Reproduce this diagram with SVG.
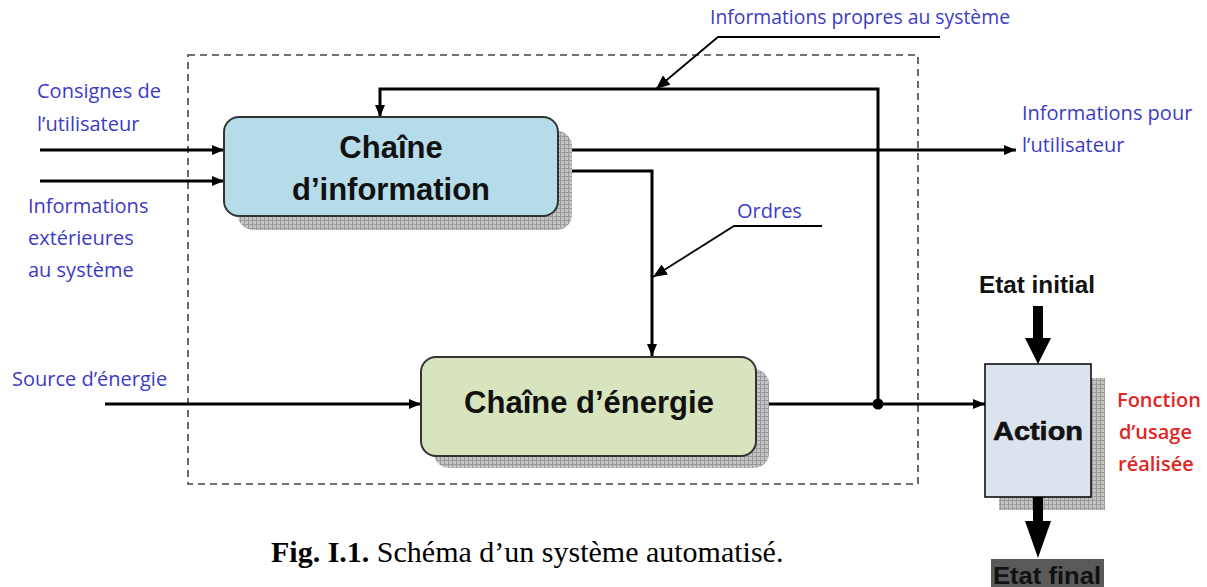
<svg xmlns="http://www.w3.org/2000/svg" width="1207" height="587" viewBox="0 0 1207 587">
  <defs>
    <pattern id="hatch" width="4" height="4" patternUnits="userSpaceOnUse">
      <rect width="4" height="4" fill="#c4c4c4"/>
      <path d="M0 0.5H4M0.5 0V4" stroke="#9a9a9a" stroke-width="1"/>
    </pattern>
    <marker id="arr" viewBox="0 0 12 10" refX="12" refY="5" markerWidth="12" markerHeight="10" markerUnits="userSpaceOnUse" orient="auto">
      <path d="M0 0L12 5L0 10Z" fill="#000"/>
    </marker>
    <marker id="arrL" viewBox="0 0 14 12" refX="14" refY="6" markerWidth="14" markerHeight="12" markerUnits="userSpaceOnUse" orient="auto">
      <path d="M0 0L14 6L0 12Z" fill="#000"/>
    </marker>
  </defs>
  <style>
    .lbl { font-family: "Open Sans", "Liberation Sans", sans-serif; font-size: 20px; fill: #3b3bc4; }
    .red { font-family: "Open Sans", "Liberation Sans", sans-serif; font-size: 20px; font-weight: 600; fill: #e0261f; }
    .box { font-family: "Liberation Sans", Arial, sans-serif; font-weight: bold; fill: #111; text-anchor: middle; }
    .state { font-family: "Liberation Sans", Arial, sans-serif; font-weight: bold; font-size: 23px; fill: #111; }
    .wire { fill: none; stroke: #000; stroke-width: 3; }
    .lead { fill: none; stroke: #000; stroke-width: 1.8; }
    .shadow { fill: url(#hatch); }
  </style>
  <rect width="1207" height="587" fill="#fff"/>

  <!-- system boundary -->
  <rect id="boundary" x="188" y="55" width="730" height="429" fill="none" stroke="#444" stroke-width="1.6" stroke-dasharray="7,5"/>

  <!-- connectors -->
  <g id="connectors">
    <line class="wire" x1="40" y1="150" x2="224" y2="150" marker-end="url(#arr)"/>
    <line class="wire" x1="40" y1="181" x2="224" y2="181" marker-end="url(#arr)"/>
    <line class="wire" x1="558" y1="150" x2="1016" y2="150" marker-end="url(#arr)"/>
    <polyline class="wire" points="558,171 652,171 652,356" marker-end="url(#arr)"/>
    <polyline class="wire" points="878,404 878,89 380,89 380,117" marker-end="url(#arr)"/>
    <line class="wire" x1="105" y1="404" x2="421" y2="404" marker-end="url(#arr)"/>
    <line class="wire" x1="756" y1="404" x2="985" y2="404" marker-end="url(#arr)"/>
    <circle cx="878" cy="404" r="5.5" fill="#000"/>
    <!-- label leaders -->
    <polyline class="lead" points="940,37 718,37 656,89" marker-end="url(#arrL)"/>
    <polyline class="lead" points="822,226 734,226 653,277" marker-end="url(#arrL)"/>
  </g>

  <!-- information chain -->
  <g id="chaine-information">
    <rect class="shadow" x="238" y="131" width="334" height="99" rx="15"/>
    <rect x="224" y="117" width="334" height="99" rx="15" fill="#b5dce8" stroke="#333" stroke-width="2"/>
    <text class="box" x="391" y="158" font-size="31">Chaîne</text>
    <text class="box" x="391" y="200" font-size="31">d’information</text>
  </g>

  <!-- energy chain -->
  <g id="chaine-energie">
    <rect class="shadow" x="434" y="369" width="335" height="99" rx="15"/>
    <rect x="421" y="357" width="335" height="99" rx="15" fill="#d7e4bd" stroke="#333" stroke-width="2"/>
    <text class="box" x="589" y="413" font-size="31">Chaîne d’énergie</text>
  </g>

  <!-- action -->
  <g id="action">
    <rect class="shadow" x="999" y="378" width="106" height="132"/>
    <rect x="985" y="364" width="106" height="133" fill="#dce3ef" stroke="#000" stroke-width="1.5"/>
    <text class="box" x="1038" y="440" font-size="26" textLength="90" lengthAdjust="spacingAndGlyphs" stroke="#111" stroke-width="0.6">Action</text>
  </g>

  <!-- initial state -->
  <g id="etat-initial">
    <text class="state" x="979" y="293" textLength="116" lengthAdjust="spacingAndGlyphs">Etat initial</text>
    <rect x="1033" y="306" width="10" height="34" fill="#000"/>
    <path d="M1025 338H1051L1038 364Z" fill="#000"/>
  </g>

  <!-- final state -->
  <g id="etat-final">
    <rect x="1033" y="497" width="10" height="26" fill="#000"/>
    <path d="M1025 521H1051L1038 558Z" fill="#000"/>
    <rect x="991" y="559" width="113" height="28" fill="#595959"/>
    <text class="state" x="993" y="584" textLength="108" lengthAdjust="spacingAndGlyphs">Etat final</text>
  </g>

  <!-- labels -->
  <g id="labels">
    <text class="lbl" x="710" y="24" textLength="300" lengthAdjust="spacingAndGlyphs">Informations propres au système</text>
    <text class="lbl" x="37" y="98">Consignes de</text>
    <text class="lbl" x="37" y="131">l’utilisateur</text>
    <text class="lbl" x="28" y="213">Informations</text>
    <text class="lbl" x="28" y="245">extérieures</text>
    <text class="lbl" x="28" y="277">au système</text>
    <text class="lbl" x="1022" y="120">Informations pour</text>
    <text class="lbl" x="1022" y="152">l’utilisateur</text>
    <text class="lbl" x="737" y="218">Ordres</text>
    <text class="lbl" x="12" y="386">Source d’énergie</text>
    <text class="red" x="1117" y="407">Fonction</text>
    <text class="red" x="1119" y="439">d’usage</text>
    <text class="red" x="1118" y="471">réalisée</text>
  </g>

  <!-- caption -->
  <text id="caption" x="271" y="562" font-family="'Liberation Serif', 'Times New Roman', serif" font-size="30" fill="#000"><tspan font-weight="bold">Fig. I.1.</tspan> Schéma d’un système automatisé.</text>
</svg>
